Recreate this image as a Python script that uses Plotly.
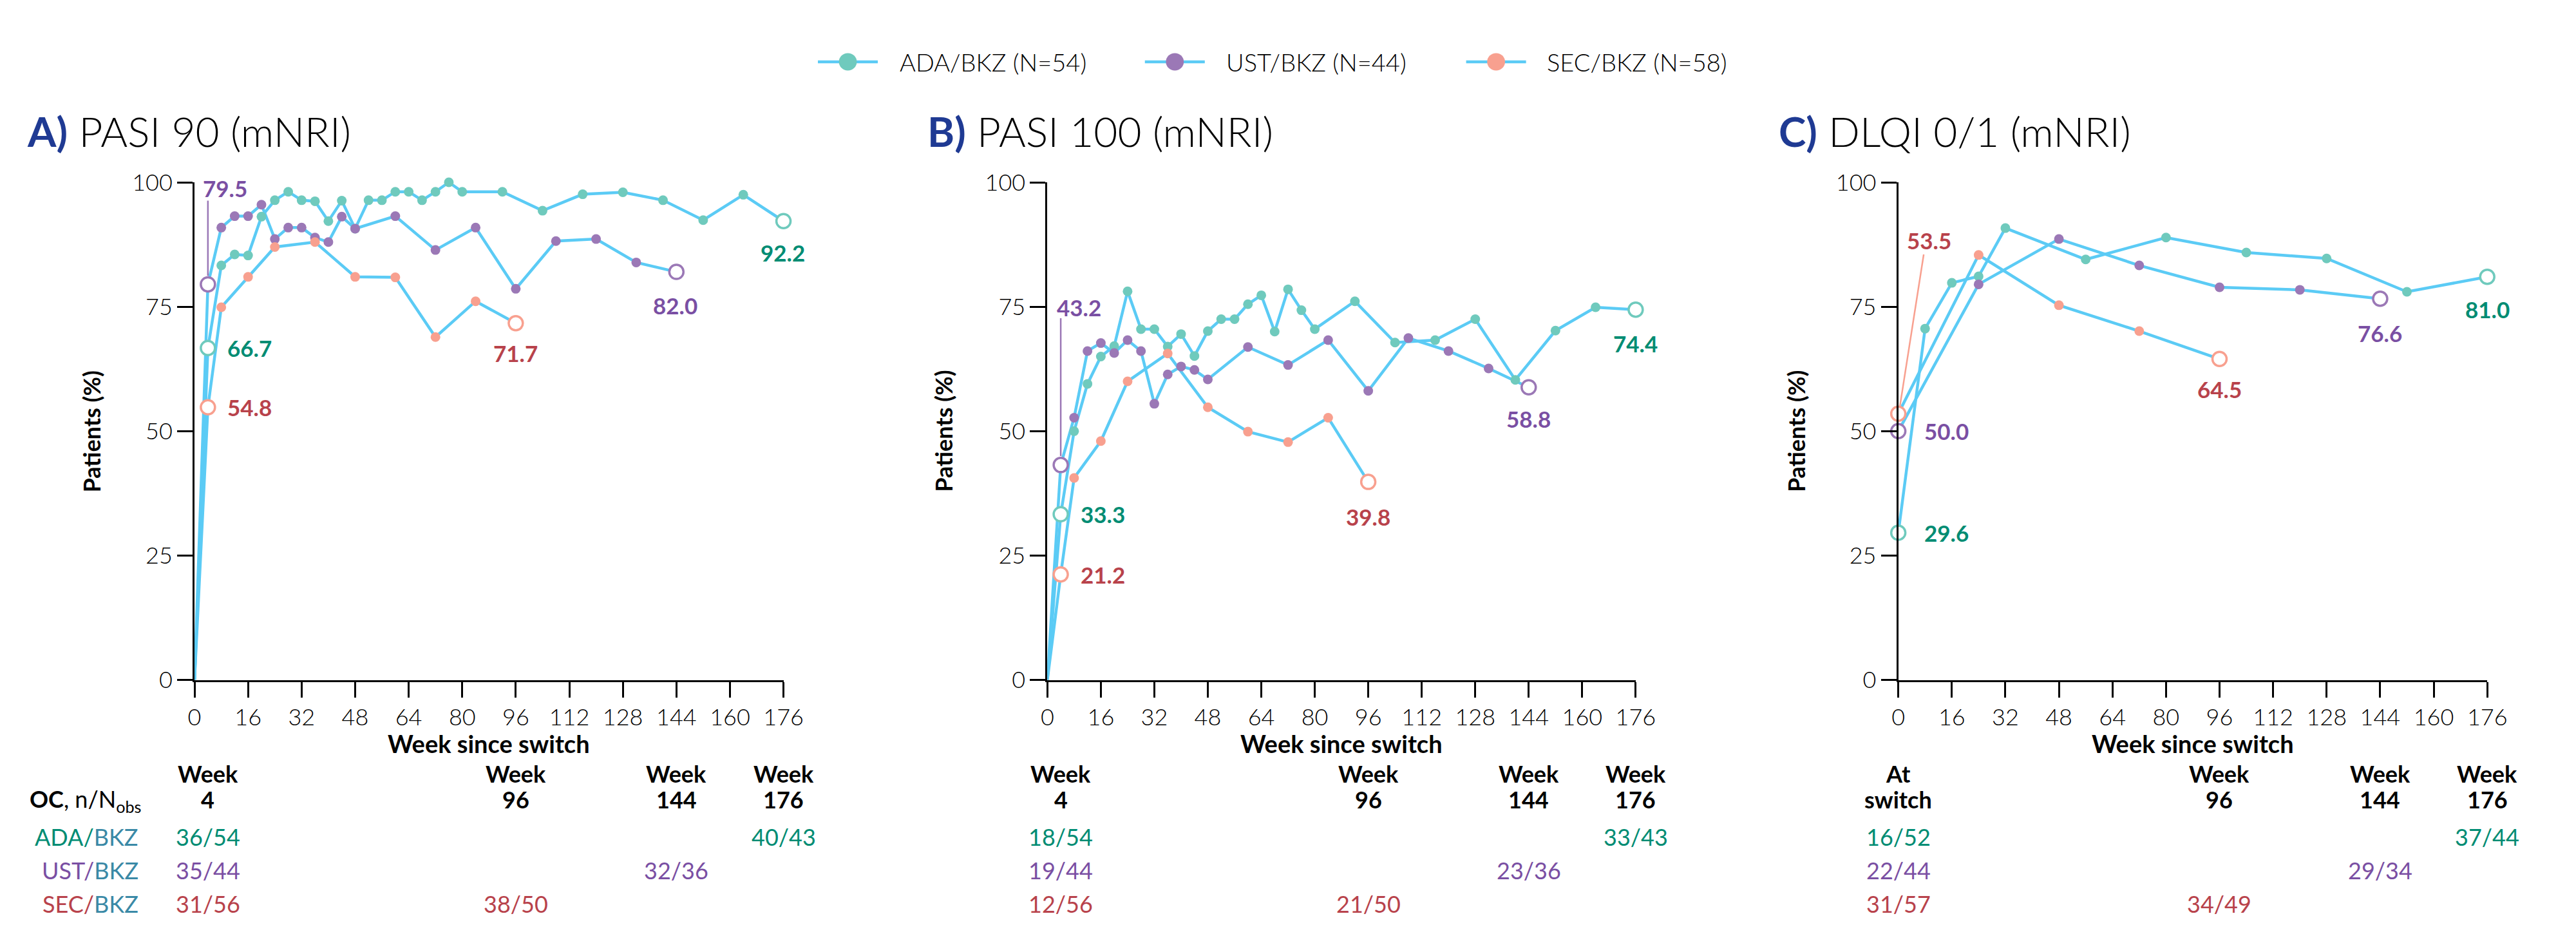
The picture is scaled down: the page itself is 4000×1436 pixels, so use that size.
import plotly.graph_objects as go

# ---------------- DATA ----------------
# Panel A: PASI 90 (mNRI)
A_ADA_WEEKS = [0, 4, 8, 12, 16, 20, 24, 28, 32, 36, 40, 44, 48, 52, 56, 60, 64, 68, 72, 76, 80, 92, 104, 116, 128, 140, 152, 164, 176]
A_ADA_VALS = [0, 66.7, 83.3, 85.5, 85.3, 93.1, 96.4, 98.1, 96.4, 96.2, 92.2, 96.3, 90.7, 96.4, 96.4, 98.1, 98.1, 96.4, 98.1, 100, 98.1, 98.1, 94.3, 97.6, 98.0, 96.4, 92.4, 97.5, 92.2]
A_UST_WEEKS = [0, 4, 8, 12, 16, 20, 24, 28, 32, 36, 40, 44, 48, 60, 72, 84, 96, 108, 120, 132, 144]
A_UST_VALS = [0, 79.5, 90.9, 93.2, 93.2, 95.5, 88.6, 90.9, 90.9, 88.9, 88.0, 93.1, 90.7, 93.2, 86.4, 90.9, 78.6, 88.2, 88.6, 83.9, 82.0]
A_SEC_WEEKS = [0, 4, 8, 16, 24, 36, 48, 60, 72, 84, 96]
A_SEC_VALS = [0, 54.8, 74.9, 81.0, 87.0, 88.0, 81.0, 80.9, 68.9, 76.1, 71.7]

# Panel B: PASI 100 (mNRI)
B_ADA_WEEKS = [0, 4, 8, 12, 16, 20, 24, 28, 32, 36, 40, 44, 48, 52, 56, 60, 64, 68, 72, 76, 80, 92, 104, 116, 128, 140, 152, 164, 176]
B_ADA_VALS = [0, 33.3, 50.0, 59.5, 65.0, 67.1, 78.1, 70.5, 70.5, 67.0, 69.5, 65.1, 70.1, 72.5, 72.5, 75.5, 77.3, 70.0, 78.5, 74.3, 70.5, 76.1, 67.8, 68.3, 72.5, 60.3, 70.2, 74.9, 74.4]
B_UST_WEEKS = [0, 4, 8, 12, 16, 20, 24, 28, 32, 36, 40, 44, 48, 60, 72, 84, 96, 108, 120, 132, 144]
B_UST_VALS = [0, 43.2, 52.7, 66.1, 67.7, 65.7, 68.3, 66.1, 55.5, 61.4, 63.0, 62.3, 60.4, 66.9, 63.3, 68.3, 58.1, 68.7, 66.1, 62.6, 58.8]
B_SEC_WEEKS = [0, 4, 8, 16, 24, 36, 48, 60, 72, 84, 96]
B_SEC_VALS = [0, 21.2, 40.6, 48.0, 60.0, 65.6, 54.8, 49.9, 47.8, 52.7, 39.8]

# Panel C: DLQI 0/1 (mNRI)
C_ADA_WEEKS = [0, 8, 16, 24, 32, 56, 80, 104, 128, 152, 176]
C_ADA_VALS = [29.6, 70.6, 79.8, 81.1, 90.8, 84.5, 88.9, 85.9, 84.7, 78.0, 81.0]
C_UST_WEEKS = [0, 24, 48, 72, 96, 120, 144]
C_UST_VALS = [50.0, 79.5, 88.6, 83.3, 78.9, 78.4, 76.6]
C_SEC_WEEKS = [0, 24, 48, 72, 96]
C_SEC_VALS = [53.5, 85.4, 75.3, 70.1, 64.5]

SERIES_NAMES = ["ADA/BKZ (N=54)", "UST/BKZ (N=44)", "SEC/BKZ (N=58)"]
ROW_LABELS = [("ADA", "BKZ"), ("UST", "BKZ"), ("SEC", "BKZ")]
PANEL_TITLES = [("A)", "PASI 90 (mNRI)"), ("B)", "PASI 100 (mNRI)"), ("C)", "DLQI 0/1 (mNRI)")]
X_TICKS = list(range(0, 177, 16))
Y_TICKS = [0, 25, 50, 75, 100]

TABLE_COLS = [[4, 96, 144, 176], [4, 96, 144, 176], [0, 96, 144, 176]]
TABLE_HEAD1 = [["Week", "Week", "Week", "Week"], ["Week", "Week", "Week", "Week"], ["At", "Week", "Week", "Week"]]
TABLE_HEAD2 = [["4", "96", "144", "176"], ["4", "96", "144", "176"], ["switch", "96", "144", "176"]]
TABLE_ROWS = [
    [["36/54", "", "", "40/43"], ["35/44", "", "32/36", ""], ["31/56", "38/50", "", ""]],
    [["18/54", "", "", "33/43"], ["19/44", "", "23/36", ""], ["12/56", "21/50", "", ""]],
    [["16/52", "", "", "37/44"], ["22/44", "", "29/34", ""], ["31/57", "34/49", "", ""]],
]

# Value labels: (text, x, y, xanchor) per panel, per series (start, end)
LABELS = [
    [("66.7", 9.5, 66.7, "left"), ("92.2", 175.7, 85.9, "center"),
     ("79.5", 9.2, 98.9, "center"), ("82.0", 143.7, 75.3, "center"),
     ("54.8", 9.5, 54.8, "left"), ("71.7", 95.9, 65.7, "center")],
    [("33.3", 9.5, 33.3, "left"), ("74.4", 176, 67.7, "center"),
     ("43.2", 9.5, 74.9, "center"), ("58.8", 144, 52.5, "center"),
     ("21.2", 9.5, 21.2, "left"), ("39.8", 96, 32.8, "center")],
    [("29.6", 7.3, 29.6, "left"), ("81.0", 176, 74.5, "center"),
     ("50.0", 7.3, 50.0, "left"), ("76.6", 144, 69.7, "center"),
     ("53.5", 9.2, 88.3, "center"), ("64.5", 96, 58.5, "center")],
]

# ---------------- STYLE ----------------
W, H = 4000, 1436
FONT = "Lato"
LINE_C = "#5BCBF5"
MARK_C = ["#6FCABD", "#9B78B6", "#F8A08F"]
TEXT_C = ["#008C73", "#7A4FA3", "#B8424B"]
BKZ_C = "#3A89A6"
NAVY = "#1F3A93"

X_DOM = [[287 / W, 1211 / W], [1625 / W, 2548 / W], [2960 / W, 3884 / W]]
Y_DOM = [1 - 1057 / H, 1 - 260 / H]


def px(x):
    return x / W


def py(y):
    return 1 - y / H


panels = [
    [(A_ADA_WEEKS, A_ADA_VALS), (A_UST_WEEKS, A_UST_VALS), (A_SEC_WEEKS, A_SEC_VALS)],
    [(B_ADA_WEEKS, B_ADA_VALS), (B_UST_WEEKS, B_UST_VALS), (B_SEC_WEEKS, B_SEC_VALS)],
    [(C_ADA_WEEKS, C_ADA_VALS), (C_UST_WEEKS, C_UST_VALS), (C_SEC_WEEKS, C_SEC_VALS)],
]

fig = go.Figure()
annotations = []
shapes = []

for p, series in enumerate(panels):
    xa = "x" if p == 0 else f"x{p+1}"
    ya = "y" if p == 0 else f"y{p+1}"
    # lines first
    for s, (wk, vals) in enumerate(series):
        fig.add_trace(go.Scatter(x=wk, y=vals, mode="lines", xaxis=xa, yaxis=ya,
                                 line=dict(color=LINE_C, width=4.5), showlegend=False,
                                 hoverinfo="skip"))
    for s, (wk, vals) in enumerate(series):
        has_origin = (p < 2)
        first = 1 if has_origin else 0
        mid_x = wk[first + 1:-1]
        mid_y = vals[first + 1:-1]
        fig.add_trace(go.Scatter(x=mid_x, y=mid_y, mode="markers", xaxis=xa, yaxis=ya,
                                 marker=dict(color=MARK_C[s], size=15, line=dict(width=0)),
                                 cliponaxis=False, showlegend=False))
        fig.add_trace(go.Scatter(x=[wk[first], wk[-1]], y=[vals[first], vals[-1]], mode="markers",
                                 xaxis=xa, yaxis=ya,
                                 marker=dict(color="white", size=22, line=dict(color=MARK_C[s], width=3.5)),
                                 cliponaxis=False, showlegend=False))
    # value labels
    for i, (t, lx, ly, anc) in enumerate(LABELS[p]):
        annotations.append(dict(text=f"<b>{t}</b>", x=lx, y=ly, xref=xa, yref=ya, xanchor=anc,
                                yanchor="middle", showarrow=False,
                                font=dict(family=FONT, size=35, color=TEXT_C[i // 2])))
    # panel title
    letter, rest = PANEL_TITLES[p]
    tx = [22, 1435, 2770][p]
    annotations.append(dict(text=f"<b><span style='color:{NAVY}'>{letter}</span></b> {rest}",
                            x=px(tx), y=py(178), xref="paper", yref="paper", xanchor="left",
                            yanchor="middle", showarrow=False,
                            font=dict(family=FONT, size=64, color="black", weight=300)))
    # y-axis title
    yx = [125, 1462, 2800][p]
    annotations.append(dict(text="<b>Patients (%)</b>", x=px(yx), y=py(659), xref="paper", yref="paper",
                            textangle=-90, showarrow=False, xanchor="center", yanchor="middle",
                            font=dict(family=FONT, size=36, color="black")))
    # x-axis title
    xc = (X_DOM[p][0] + X_DOM[p][1]) / 2
    annotations.append(dict(text="<b>Week since switch</b>", x=xc, y=py(1159), xref="paper", yref="paper",
                            showarrow=False, xanchor="center", yanchor="middle",
                            font=dict(family=FONT, size=38, color="black")))
    # table
    for c, wkc in enumerate(TABLE_COLS[p]):
        annotations.append(dict(text=f"<b>{TABLE_HEAD1[p][c]}</b>", x=wkc, y=py(1207), xref=xa, yref="paper",
                                showarrow=False, xanchor="center", yanchor="middle",
                                font=dict(family=FONT, size=36, color="black")))
        annotations.append(dict(text=f"<b>{TABLE_HEAD2[p][c]}</b>", x=wkc, y=py(1248), xref=xa, yref="paper",
                                showarrow=False, xanchor="center", yanchor="middle",
                                font=dict(family=FONT, size=36, color="black")))
        for r in range(3):
            t = TABLE_ROWS[p][r][c]
            if t:
                annotations.append(dict(text=t, x=wkc, y=py([1308, 1362, 1415][r]), xref=xa, yref="paper",
                                        showarrow=False, xanchor="center", yanchor="middle",
                                        font=dict(family=FONT, size=36, color=TEXT_C[r])))

# leader lines
shapes.append(dict(type="line", xref="x", yref="y", x0=4, x1=4, y0=81.2, y1=96.3,
                   line=dict(color=MARK_C[1], width=2.5)))
shapes.append(dict(type="line", xref="x2", yref="y2", x0=4, x1=4, y0=45.0, y1=72.7,
                   line=dict(color=MARK_C[1], width=2.5)))
shapes.append(dict(type="line", xref="x3", yref="y3", x0=0.5, x1=7.6, y0=55.1, y1=85.5,
                   line=dict(color=MARK_C[2], width=2.5)))

# table row labels (panel A only)
annotations.append(dict(text="<b>OC</b>, n/N<sub>obs</sub>", x=px(26), y=py(1250), xref="paper", yref="paper",
                        showarrow=False, xanchor="left", yanchor="middle",
                        font=dict(family=FONT, size=36, color="black")))
for r, (drug, bkz) in enumerate(ROW_LABELS):
    annotations.append(dict(text=f"<span style='color:{TEXT_C[r]}'>{drug}/</span><span style='color:{BKZ_C}'>{bkz}</span>",
                            x=px(201), y=py([1308, 1362, 1415][r]), xref="paper", yref="paper",
                            showarrow=False, xanchor="right", yanchor="middle",
                            font=dict(family=FONT, size=36, color="black")))

# legend (drawn manually)
leg_cx = [1312, 1825, 2329]
leg_tx = [1391, 1904, 2407]
for s in range(3):
    shapes.append(dict(type="line", xref="paper", yref="paper", x0=px(leg_cx[s] - 47), x1=px(leg_cx[s] + 47),
                       y0=py(67), y1=py(67), line=dict(color=LINE_C, width=4.5)))
    shapes.append(dict(type="circle", xref="paper", yref="paper", x0=px(leg_cx[s] - 14), x1=px(leg_cx[s] + 14),
                       y0=py(67 + 14), y1=py(67 - 14), fillcolor=MARK_C[s], line=dict(width=0)))
    annotations.append(dict(text=SERIES_NAMES[s], x=px(leg_tx[s]), y=py(67), xref="paper", yref="paper",
                            showarrow=False, xanchor="left", yanchor="middle",
                            font=dict(family=FONT, size=38, color="black", weight=300)))

axis_common = dict(showline=True, linecolor="black", linewidth=3, ticks="outside", ticklen=24, tickwidth=3,
                   tickcolor="black", showgrid=False, zeroline=False,
                   tickfont=dict(family=FONT, size=36, color="black", weight=300))
layout = dict(width=W, height=H, margin=dict(l=0, r=0, t=0, b=0), plot_bgcolor="white", paper_bgcolor="white",
              showlegend=False, annotations=annotations, shapes=shapes)
for p in range(3):
    sx = "" if p == 0 else str(p + 1)
    layout[f"xaxis{sx}"] = dict(domain=X_DOM[p], range=[0, 176], tickvals=X_TICKS, anchor=f"y{sx}",
                                fixedrange=True, **axis_common)
    layout[f"yaxis{sx}"] = dict(domain=Y_DOM, range=[0, 100], tickvals=Y_TICKS, anchor=f"x{sx}",
                                fixedrange=True, **axis_common)
fig.update_layout(**layout)
fig.write_html("out.html")
